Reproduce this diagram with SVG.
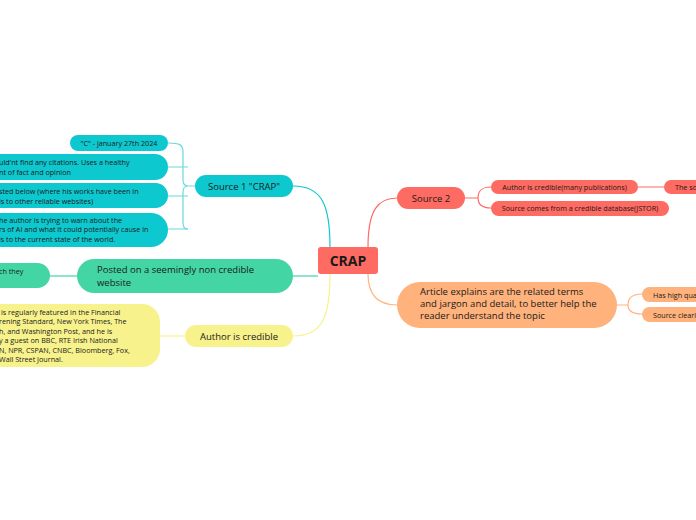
<svg xmlns="http://www.w3.org/2000/svg" width="696" height="520" viewBox="0 0 696 520">
<style>
text{font-family:"Open Sans","Noto Sans","Liberation Sans",sans-serif;fill:#1a1a1a}
.s{font-size:7.2px}
.m{font-size:9.5px}
.c{fill:none;stroke-width:1.2}
.teal{fill:#0ec8cf}
.green{fill:#43d6a4}
.yel{fill:#f8f28c}
.red{fill:#fe6b62}
.ora{fill:#ffb27c}
</style>
<rect width="696" height="520" fill="#ffffff"/>
<g id="connectors">
<path class="c" stroke="#0ec8cf" d="M293,186 C322,186 330,205 330,247"/>
<path class="c" stroke="#43d6a4" d="M293,276 L318,276"/>
<path class="c" stroke="#f8f28c" d="M330,274 C330,318 322,336 293,336"/>
<path class="c" stroke="#fe6b62" d="M368,247 C368,210 378,198 397,198"/>
<path class="c" stroke="#ffb27c" d="M368,274 C368,295 378,305 397,305"/>
<path class="c" stroke="#43d6a4" d="M50,276 L77,276"/>
<path class="c" stroke="#f8f28c" d="M160,336 L185,336"/>
<path class="c" stroke="#6ad9de" d="M168,143 C180,143 183,145 183,152 L183,180 Q183,186 188,186 Q183,186 183,192 L183,222 C183,227 184,229 188,229"/>
<path class="c" stroke="#6ad9de" d="M168,167 L188,167 M168,196 L188,196 M168,229 L188,229 M188,186 L195,186"/>
<path class="c" stroke="#fe6b62" d="M465,198 L478,198 M478,198 C478,190 482,187 491,187 M478,198 C478,205 482,208 491,208 M638,187 L664,187"/>
<path class="c" stroke="#ffb27c" d="M617,305 L628,305 M628,305 C628,298 633,294 642,294 M628,305 C628,311 633,314 642,314"/>
</g>
<g id="central">
<rect x="318" y="247" width="60" height="27" rx="3" class="red"/>
<text x="348" y="266" font-size="14" font-weight="bold" text-anchor="middle">CRAP</text>
</g>
<g id="source1">
<rect x="195" y="175" width="98" height="22" rx="11" class="teal"/>
<text x="244" y="189.5" class="m" text-anchor="middle">Source 1 "CRAP"</text>
</g>
<g id="s1c1">
<rect x="70" y="135" width="98" height="16" rx="8" class="teal"/>
<text x="119" y="145.5" class="s" text-anchor="middle">"C" - january 27th 2024</text>
</g>
<g id="s1c2">
<rect x="-40" y="154" width="208" height="26" rx="13" class="teal"/>
<text class="s"><tspan x="-1" y="165">uld'nt find any citations. Uses a healthy</tspan><tspan x="-1" y="174.5">nt of fact and opinion</tspan></text>
</g>
<g id="s1c3">
<rect x="-40" y="183" width="208" height="25" rx="12.5" class="teal"/>
<text class="s"><tspan x="-1" y="194">sted below (where his works have been in</tspan><tspan x="-1" y="203.5">ls to other reliable websites)</tspan></text>
</g>
<g id="s1c4">
<rect x="-40" y="213" width="208" height="34" rx="17" class="teal"/>
<text class="s"><tspan x="-1" y="222.5">he author is trying to warn about the</tspan><tspan x="-1" y="232">rs of AI and what it could potentially cause in</tspan><tspan x="-1" y="241.5">ls to the current state of the world.</tspan></text>
</g>
<g id="posted">
<rect x="77" y="259" width="216" height="34" rx="17" class="green"/>
<text class="m"><tspan x="97" y="273">Posted on a seemingly non credible</tspan><tspan x="97" y="285.5">website</tspan></text>
</g>
<g id="postedchild">
<rect x="-40" y="263" width="90" height="25" rx="12.5" class="green"/>
<text x="-1" y="274" class="s">ch they</text>
</g>
<g id="author">
<rect x="185" y="325" width="108" height="22" rx="11" class="yel"/>
<text x="239" y="339.5" class="m" text-anchor="middle">Author is credible</text>
</g>
<g id="authorchild">
<rect x="-40" y="304" width="200" height="63" rx="18" class="yel"/>
<text class="s"><tspan x="1" y="314.5">is regularly featured in the Financial</tspan><tspan x="-1" y="324">rening Standard, New York Times, The</tspan><tspan x="-1" y="333.5">h, and Washington Post, and he is</tspan><tspan x="-1" y="343">y a guest on BBC, RTE Irish National</tspan><tspan x="-1" y="352.5">N, NPR, CSPAN, CNBC, Bloomberg, Fox,</tspan><tspan x="-1" y="362">Wall Street Journal.</tspan></text>
</g>
<g id="source2">
<rect x="397" y="187" width="68" height="22" rx="11" class="red"/>
<text x="431" y="201.5" class="m" text-anchor="middle">Source 2</text>
</g>
<g id="s2c1">
<rect x="491" y="180" width="147" height="14" rx="7" class="red"/>
<text x="564.5" y="189.5" class="s" text-anchor="middle">Author is credible(many publications)</text>
</g>
<g id="s2c1a">
<rect x="664" y="180" width="80" height="14" rx="7" class="red"/>
<text x="675" y="189.5" class="s">The so</text>
</g>
<g id="s2c2">
<rect x="491" y="201" width="178" height="15" rx="7.5" class="red"/>
<text x="580" y="211" class="s" text-anchor="middle">Source comes from a credible database(JSTOR)</text>
</g>
<g id="article">
<rect x="397" y="282" width="220" height="46" rx="23" class="ora"/>
<text class="m"><tspan x="420" y="295">Article explains are the related terms</tspan><tspan x="420" y="307">and jargon and detail, to better help the</tspan><tspan x="420" y="319">reader understand the topic</tspan></text>
</g>
<g id="artc1">
<rect x="642" y="287" width="90" height="15" rx="7.5" class="ora"/>
<text x="653" y="297.5" class="s">Has high qua</text>
</g>
<g id="artc2">
<rect x="642" y="307" width="90" height="15" rx="7.5" class="ora"/>
<text x="653" y="317.5" class="s">Source clearl</text>
</g>
</svg>
